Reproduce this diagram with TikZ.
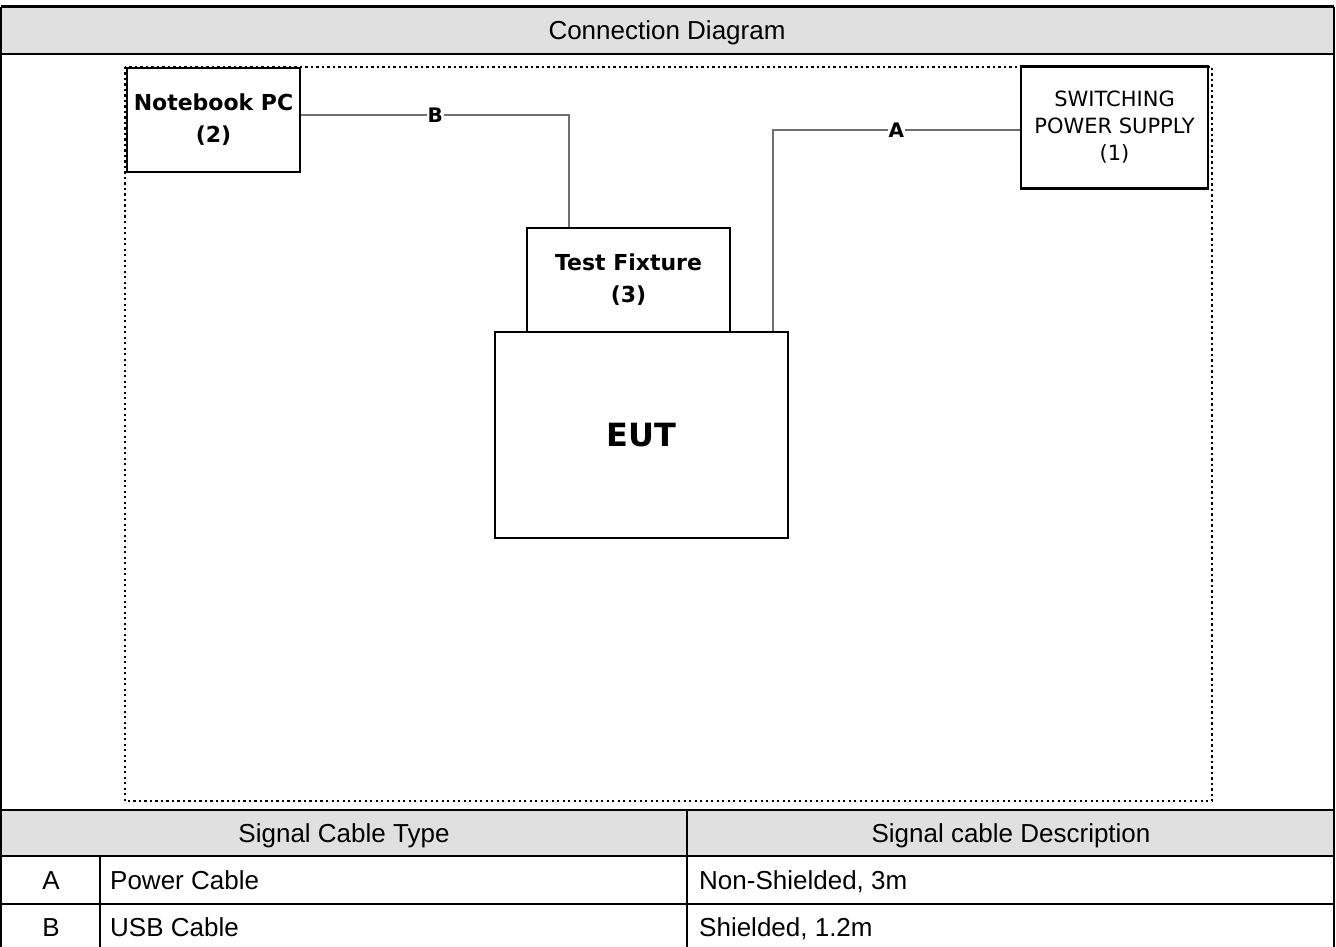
\documentclass[tikz,border=0pt]{standalone}
\usepackage{fontspec}
\setmainfont{Liberation Sans}
\newfontfamily\dejavu{DejaVu Sans}
\definecolor{hdrgray}{HTML}{E0E0E0}
\definecolor{cablegray}{HTML}{707070}

\begin{document}
\begin{tikzpicture}[x=1pt, y=-1pt,
    box/.style={draw, line width=2.6pt, fill=white, align=center, inner sep=0pt,
                font=\dejavu\bfseries\fontsize{22}{32}\selectfont},
    cable/.style={draw=cablegray, line width=2.4pt},
    tag/.style={fill=white, inner sep=0.8pt, font=\dejavu\bfseries\fontsize{20}{20}\selectfont},
    rule/.style={line width=2.2pt},
    cell/.style={inner sep=0pt, text height=18pt, text depth=0pt, font=\fontsize{26}{26}\selectfont}]
    \useasboundingbox (0,0) rectangle (1336,947);

    % Header rows
    \fill[hdrgray] (1,7) rectangle (1334,54);
    \fill[hdrgray] (1,810) rectangle (1334,856);
    \node[cell] (title) at (667,31) {Connection Diagram};

    % Test area
    \draw[line width=2.2pt, dash pattern=on 2.2pt off 3.3pt] (125,67) rectangle (1212,801);

    % Equipment
    \node[box, minimum width=173, minimum height=104] (NB) at (213.5,120) {Notebook PC\\(2)};
    \node[box, minimum width=187, minimum height=122,
          font=\dejavu\fontsize{21}{27}\selectfont] (PS) at (1114.5,127.5) {SWITCHING\\POWER SUPPLY\\(1)};
    \node[box, minimum width=203, minimum height=104] (TF) at (628.5,280) {Test Fixture\\(3)};
    \node[box, minimum width=293, minimum height=206,
          font=\dejavu\bfseries\fontsize{32}{32}\selectfont] (EUT) at (641.5,435) {EUT};

    % Cables
    \coordinate (bendB) at (569,115);
    \coordinate (bendA) at (773,130);
    \draw[cable] (NB.east |- bendB) -- node[tag] {B} (bendB) -- (bendB |- TF.north);
    \draw[cable] (bendA |- EUT.north) -- (bendA) -- node[tag] {A} (bendA -| PS.west);

    % Table rules
    \draw[line width=3pt] (1,7) -- (1334,7);
    \foreach \y in {54,810,856,904} {
        \draw[rule] (1,\y) -- (1334,\y);
    }
    \draw[rule] (1,7) -- (1,947);
    \draw[rule] (1334,7) -- (1334,947);
    \draw[rule] (687,810) -- (687,947);
    \draw[rule] (100,856) -- (100,947);

    % Table text
    \node[cell] (type) at (344,833) {Signal Cable Type};
    \node[cell] (desc) at (1011,833) {Signal cable Description};
    \foreach \y/\k/\t/\d in {880/A/Power Cable/{Non-Shielded, 3m}, 927/B/USB Cable/{Shielded, 1.2m}} {
        \node[cell] (key\k) at (51,\y) {\k};
        \node[cell, anchor=west] (name\k) at (110,\y) {\t};
        \node[cell, anchor=west] (info\k) at (699,\y) {\d};
    }
\end{tikzpicture}
\end{document}
